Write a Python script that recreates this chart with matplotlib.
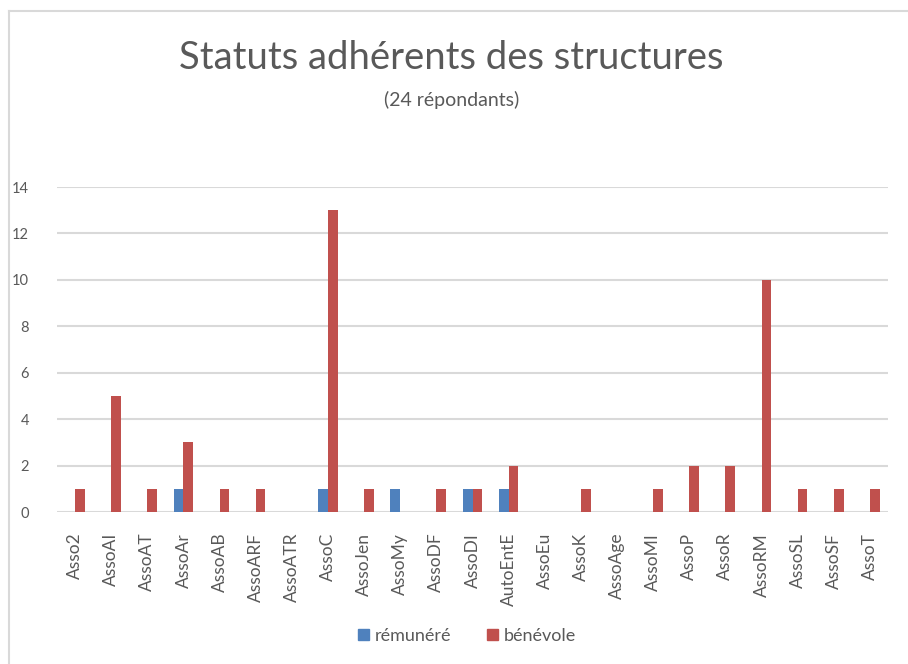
import matplotlib
matplotlib.use("Agg")
import matplotlib.pyplot as plt
import numpy as np
from matplotlib.lines import Line2D
from matplotlib.patches import Patch

categories = ["Asso2", "AssoAI", "AssoAT", "AssoAr", "AssoAB", "AssoARF", "AssoATR",
              "AssoC", "AssoJen", "AssoMy", "AssoDF", "AssoDI", "AutoEntE", "AssoEu",
              "AssoK", "AssoAge", "AssoMI", "AssoP", "AssoR", "AssoRM", "AssoSL",
              "AssoSF", "AssoT"]
remunere = [0, 0, 0, 1, 0, 0, 0, 1, 0, 1, 0, 1, 1, 0, 0, 0, 0, 0, 0, 0, 0, 0, 0]
benevole = [1, 5, 1, 3, 1, 1, 0, 13, 1, 0, 1, 1, 2, 0, 1, 0, 1, 2, 2, 10, 1, 1, 1]
yticks = [0, 2, 4, 6, 8, 10, 12, 14]

plt.rcParams['font.family'] = ['Lato', 'DejaVu Sans']
W, H = 908, 664
fig = plt.figure(figsize=(W / 100, H / 100), dpi=100)
fig.patch.set_facecolor("white")

# plot area in pixels: x 57..888, y 187(14)..512(0)
x0, x1 = 57, 888
y_top, y_bot = 187, 512
ax = fig.add_axes([x0 / W, 1 - y_bot / H, (x1 - x0) / W, (y_bot - y_top) / H])
n = len(categories)
x = np.arange(n)
bw = 0.27
blue = "#4F81BD"
red = "#C0504D"
ax.bar(x - bw / 2, remunere, width=bw, color=blue, zorder=3)
ax.bar(x + bw / 2, benevole, width=bw, color=red, zorder=3)
ax.set_xlim(-0.5, n - 0.5)
ax.set_ylim(0, 14)
ax.set_yticks(yticks)
ax.set_yticklabels([str(v) for v in yticks])
ax.yaxis.grid(True, color="#D9D9D9", linewidth=1.5, zorder=0)
ax.set_axisbelow(True)
for s in ax.spines.values():
    s.set_visible(False)
ax.tick_params(axis='y', length=0, pad=20, labelsize=10.5, labelcolor="#595959")
ax.tick_params(axis='x', length=0, pad=15, labelsize=12.5, labelcolor="#595959")
ax.set_xticks(x)
ax.set_xticklabels(categories, rotation=90)
for lbl in ax.get_yticklabels():
    lbl.set_horizontalalignment('right')

fig.text(451 / W, 1 - 58 / H, "Statuts adhérents des structures", ha='center', va='center',
         fontsize=27.5, color="#595959")
fig.text(452 / W, 1 - 100 / H, "(24 répondants)", ha='center', va='center',
         fontsize=14, color="#595959")

handles = [Patch(color=blue, label="rémunéré"), Patch(color=red, label="bénévole")]
fig.legend(handles=handles, loc='center', bbox_to_anchor=(467 / W, 1 - 636 / H), ncol=2,
           frameon=False, fontsize=13, labelcolor="#595959", handlelength=0.6,
           handleheight=0.6, handletextpad=0.3, columnspacing=2.0)

# chart frame (left and top edges visible)
fig.add_artist(Line2D([9 / W, 9 / W], [0, 1 - 11 / H], transform=fig.transFigure,
                      color="#D9D9D9", linewidth=1.5))
fig.add_artist(Line2D([9 / W, 1], [1 - 11 / H, 1 - 11 / H], transform=fig.transFigure,
                      color="#D9D9D9", linewidth=1.5))

fig.savefig("out.png", dpi=100, facecolor="white")
